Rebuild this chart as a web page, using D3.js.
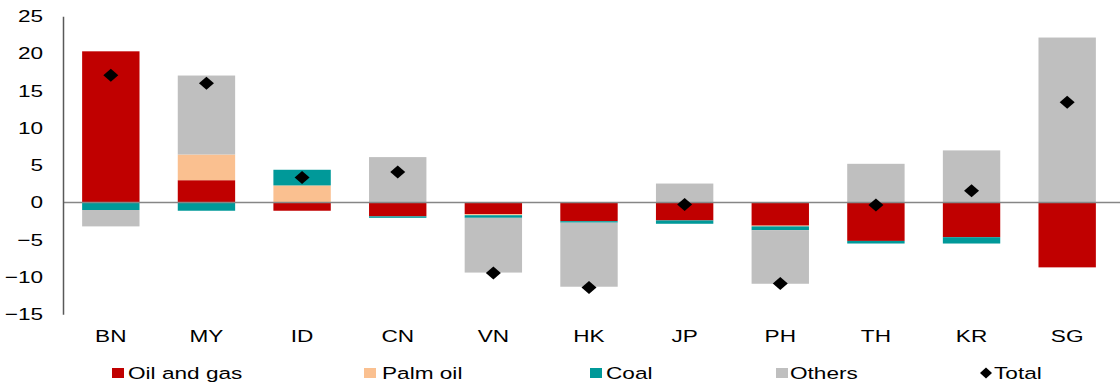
<!DOCTYPE html>
<html>
<head>
<meta charset="utf-8">
<script src="https://cdn.jsdelivr.net/npm/d3@7"></script>
<style>
  html, body { margin: 0; padding: 0; background: #fff; }
  svg { display: block; }
  text { font-family: "Liberation Sans", Arial, sans-serif; fill: #000; }
</style>
</head>
<body>
<script>
// Contribution by component, per economy
const categories = ["BN", "MY", "ID", "CN", "VN", "HK", "JP", "PH", "TH", "KR", "SG"];
const oilGas  = [20.3, 3.0, -1.1, -1.85, -1.55, -2.5, -2.4, -3.1, -5.15, -4.65, -8.7];
const palmOil = [0, 3.45, 2.3, 0, -0.15, 0, 0, -0.1, 0, 0, 0];
const coal    = [-1.0, -1.1, 2.1, -0.2, -0.35, -0.2, -0.45, -0.5, -0.35, -0.85, 0];
const others  = [-2.2, 10.6, 0, 6.1, -7.35, -8.6, 2.55, -7.2, 5.2, 7.0, 22.15];
const total   = [17.1, 16.0, 3.35, 4.1, -9.45, -11.4, -0.27, -10.87, -0.32, 1.6, 13.45];
const yTicks  = [-15, -10, -5, 0, 5, 10, 15, 20, 25];

const seriesNames = ["Oil and gas", "Palm oil", "Coal", "Others"];
const seriesColors = ["#C00000", "#FAC090", "#009999", "#BFBFBF"];
const seriesValues = [oilGas, palmOil, coal, others];

const W = 1120, H = 385;
const sx = 1.33; // horizontal text stretch

const svg = d3.select("body").append("svg").attr("width", W).attr("height", H);

const x = d3.scaleBand().domain(categories).range([63, 1115])
  .paddingInner(0.4).paddingOuter(0.2);
const y = d3.scaleLinear().domain([-15, 25]).range([314.3, 16.3]);

// rows for stacking
const rows = categories.map((c, i) => {
  const r = { cat: c };
  seriesNames.forEach((k, j) => r[k] = seriesValues[j][i]);
  return r;
});
const stacked = d3.stack().keys(seriesNames).offset(d3.stackOffsetDiverging)(rows);

// bars
svg.append("g").selectAll("g").data(stacked).join("g")
  .attr("fill", (d, i) => seriesColors[i])
  .selectAll("rect").data(d => d.filter(p => p[1] !== p[0])).join("rect")
  .attr("x", d => x(d.data.cat))
  .attr("width", x.bandwidth())
  .attr("y", d => y(Math.max(d[0], d[1])))
  .attr("height", d => Math.abs(y(d[0]) - y(d[1])));

// zero line
svg.append("line")
  .attr("x1", 63).attr("x2", W)
  .attr("y1", y(0)).attr("y2", y(0))
  .attr("stroke", "#868686").attr("stroke-width", 1.5);

// y axis
const yAxis = svg.append("g").attr("transform", "translate(63,0)")
  .call(d3.axisLeft(y).tickValues(yTicks).tickSize(0).tickFormat(d3.format("d")));
yAxis.select(".domain").attr("stroke", "#595959").attr("stroke-width", 1.5);
yAxis.selectAll("text")
  .attr("x", -15)
  .attr("transform", `scale(${sx},1)`)
  .style("font-size", "17px")
  .style("font-family", "'Liberation Sans', Arial, sans-serif")
  .attr("fill", "#000");

// x axis labels
const xAxis = svg.append("g").attr("transform", "translate(0,314.3)")
  .call(d3.axisBottom(x).tickSize(0).tickPadding(15.5));
xAxis.select(".domain").remove();
xAxis.selectAll("text")
  .attr("transform", `scale(${sx},1)`)
  .style("font-size", "17px")
  .style("font-family", "'Liberation Sans', Arial, sans-serif")
  .attr("fill", "#000");

// total markers
const diamond = "M0,-6.5L7.5,0L0,6.5L-7.5,0Z";
svg.append("g").selectAll("path").data(categories).join("path")
  .attr("d", diamond)
  .attr("transform", (c, i) => `translate(${x(c) + x.bandwidth() / 2},${y(total[i])})`)
  .attr("fill", "#000");

// legend
const legendItems = [
  { name: "Oil and gas", color: seriesColors[0], mx: 112, tx: 128, type: "rect" },
  { name: "Palm oil", color: seriesColors[1], mx: 364, tx: 382, type: "rect" },
  { name: "Coal", color: seriesColors[2], mx: 590, tx: 606, type: "rect" },
  { name: "Others", color: seriesColors[3], mx: 776, tx: 790, type: "rect" },
  { name: "Total", color: "#000", mx: 980, tx: 994, type: "diamond" }
];
const lg = svg.append("g");
legendItems.forEach(it => {
  if (it.type === "rect") {
    lg.append("rect").attr("x", it.mx).attr("y", 368).attr("width", 12).attr("height", 10)
      .attr("fill", it.color);
  } else {
    lg.append("path").attr("d", "M0,-5.5L6,0L0,5.5L-6,0Z")
      .attr("transform", `translate(${it.mx + 6},373)`).attr("fill", it.color);
  }
  lg.append("text")
    .attr("transform", `translate(${it.tx},379) scale(${sx},1)`)
    .style("font-size", "17px")
    .text(it.name);
});
</script>
</body>
</html>
